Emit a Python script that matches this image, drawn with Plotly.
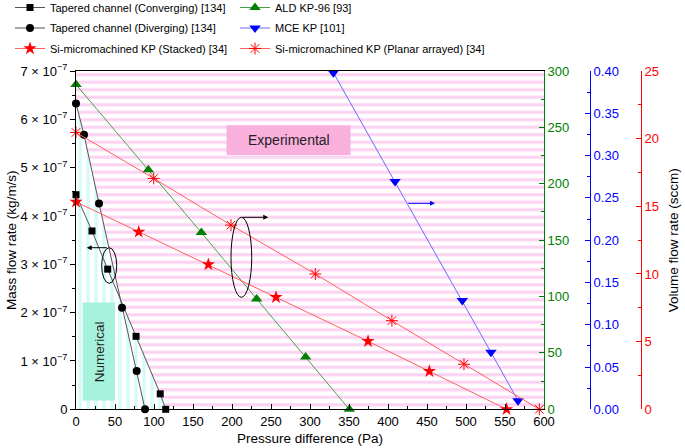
import numpy as np
import plotly.graph_objects as go

# ---------------- data ----------------
conv_x = [0, 20.5, 40.6, 77, 108, 115]
conv_y = [4.44e-7, 3.69e-7, 2.90e-7, 1.51e-7, 0.32e-7, 0]

div_x = [0, 10.3, 29.5, 59, 77.8, 88.5]
div_y = [6.33e-7, 5.68e-7, 4.26e-7, 2.10e-7, 0.79e-7, 0]

ald_x = [0, 92.7, 160.7, 231.6, 294.4, 350.4]
ald_y = [288, 212.4, 156.7, 97.9, 46.4, 0]

mce_x = [330, 409, 495.3, 532, 566.7]
mce_y = [0.398, 0.2693, 0.1285, 0.0674, 0.0102]

stk_x = [0, 80.4, 169.7, 256.4, 374.4, 453, 552]
stk_y = [15.33, 13.11, 10.70, 8.28, 5.03, 2.81, 0]

pla_x = [0, 99.6, 198.7, 306.8, 405, 497.4, 594]
pla_y = [20.46, 17.06, 13.61, 10.0, 6.55, 3.33, 0]

x_range = [0, 600]
mass_range = [0, 7e-7]
ald_range = [0, 300]
mce_range = [0, 0.40]
sccm_range = [0, 25]

mass_ticks = [i * 1e-7 for i in range(8)]
mass_ticktext = ["0"] + [f"{i} × 10<sup>−7</sup>" for i in range(1, 8)]
mce_ticks = [round(i * 0.05, 2) for i in range(9)]
mce_ticktext = [f"{v:.2f}" for v in mce_ticks]

FONT = "Liberation Sans, Arial, sans-serif"
FS = 13
LFS = 11
GREEN = "#008000"
BLUE = "#0000ff"
RED = "#ff0000"

fig = go.Figure()

# background experimental region (pink horizontal stripes)
fig.add_trace(go.Scatter(
    x=[x_range[0], x_range[1], x_range[1], x_range[0], x_range[0]],
    y=[mass_range[0], mass_range[0], mass_range[1], mass_range[1], mass_range[0]],
    fill="toself", mode="lines", line=dict(width=0),
    fillpattern=dict(shape="-", fgcolor="#f6a8e8", bgcolor="white", size=7.5, solidity=0.42),
    showlegend=False, hoverinfo="skip"))

# numerical region (cyan vertical stripes) under envelope of tapered channels
xs = np.linspace(0, max(conv_x), 600)
env = np.maximum(np.interp(xs, conv_x, conv_y), np.interp(xs, div_x, div_y))
fig.add_trace(go.Scatter(
    x=np.concatenate([[0], xs, [xs[-1]]]), y=np.concatenate([[0], env, [0]]),
    fill="toself", mode="lines", line=dict(width=0),
    fillpattern=dict(shape="|", fgcolor="#aef3f3", bgcolor="white", size=8, solidity=0.42),
    showlegend=False, hoverinfo="skip"))

fig.add_trace(go.Scatter(
    x=conv_x, y=conv_y, mode="lines+markers", name="Tapered channel (Converging) [134]",
    line=dict(color="#555555", width=1),
    marker=dict(symbol="square", size=7, color="black"),
    cliponaxis=False, legend="legend", legendgroup="a"))
fig.add_trace(go.Scatter(
    x=div_x, y=div_y, mode="lines+markers", name="Tapered channel (Diverging) [134]",
    line=dict(color="#555555", width=1),
    marker=dict(symbol="circle", size=8, color="black"),
    cliponaxis=False, legend="legend", legendgroup="b"))
fig.add_trace(go.Scatter(
    x=stk_x, y=stk_y, mode="lines+markers", name="Si-micromachined KP (Stacked) [34]",
    line=dict(color="#ff6060", width=1),
    marker=dict(symbol="star", size=10, color=RED),
    yaxis="y4", cliponaxis=False, legend="legend", legendgroup="c"))

fig.add_trace(go.Scatter(
    x=ald_x, y=ald_y, mode="lines+markers", name="ALD KP-96 [93]",
    line=dict(color="#4aa04a", width=1),
    marker=dict(symbol="triangle-up", size=10, color=GREEN),
    yaxis="y2", cliponaxis=False, legend="legend2", legendgroup="d"))
fig.add_trace(go.Scatter(
    x=mce_x, y=mce_y, mode="lines+markers", name="MCE KP [101]",
    line=dict(color="#6a6aff", width=1),
    marker=dict(symbol="triangle-down", size=10, color=BLUE),
    yaxis="y3", cliponaxis=False, legend="legend2", legendgroup="e"))
fig.add_trace(go.Scatter(
    x=pla_x, y=pla_y, mode="lines+markers", name="Si-micromachined KP (Planar arrayed) [34]",
    line=dict(color="#ff6060", width=1),
    marker=dict(symbol="asterisk-open", size=10, color=RED, line=dict(color=RED, width=1)),
    yaxis="y4", cliponaxis=False, legend="legend2", legendgroup="f"))

# annotation boxes
fig.add_shape(type="rect", xref="x", yref="y", x0=193, x1=352, y0=5.26e-7, y1=5.88e-7,
              fillcolor="#f9b0dc", line=dict(width=0), layer="above")
fig.add_annotation(x=272.5, y=5.57e-7, xref="x", yref="y", text="Experimental",
                   showarrow=False, font=dict(size=14, color="#222222", family=FONT))
fig.add_shape(type="rect", xref="x", yref="y", x0=8.6, x1=50, y0=0.18e-7, y1=2.21e-7,
              fillcolor="#a6f2dc", line=dict(width=0), layer="above")
fig.add_annotation(x=29.3, y=1.2e-7, xref="x", yref="y", text="Numerical", textangle=-90,
                   showarrow=False, font=dict(size=13.5, color="#222222", family=FONT))

# ellipses
fig.add_shape(type="circle", xref="x", yref="y", x0=32.9, x1=52.2, y0=2.607e-7, y1=3.344e-7,
              line=dict(color="black", width=1), layer="above")
fig.add_shape(type="circle", xref="x", yref="y", x0=198.7, x1=225.3, y0=2.317e-7, y1=3.973e-7,
              line=dict(color="black", width=1), layer="above")

# arrows
fig.add_annotation(x=13.7, y=3.344e-7, ax=41.4, ay=3.344e-7, xref="x", yref="y",
                   axref="x", ayref="y", text="", showarrow=True, arrowhead=2,
                   arrowsize=1, arrowwidth=1, arrowcolor="black")
fig.add_annotation(x=246.5, y=3.973e-7, ax=211.5, ay=3.973e-7, xref="x", yref="y",
                   axref="x", ayref="y", text="", showarrow=True, arrowhead=2,
                   arrowsize=1, arrowwidth=1, arrowcolor="black")
fig.add_annotation(x=460.3, y=4.262e-7, ax=424, ay=4.262e-7, xref="x", yref="y",
                   axref="x", ayref="y", text="", showarrow=True, arrowhead=2,
                   arrowsize=1, arrowwidth=1, arrowcolor=BLUE)

tickfont = dict(family=FONT, size=FS)

fig.update_layout(
    width=685, height=448,
    margin=dict(l=0, r=0, t=0, b=0, autoexpand=False),
    paper_bgcolor="white", plot_bgcolor="white",
    font=dict(family=FONT, size=FS, color="black"),
    xaxis=dict(domain=[76 / 685, 544 / 685], range=x_range, dtick=50, tick0=0,
               ticks="inside", ticklen=5, tickcolor="black",
               minor=dict(dtick=25, ticks="inside", ticklen=3, tickcolor="black"),
               showline=True, linecolor="black", linewidth=1, mirror=True,
               showgrid=False, zeroline=False, tickfont=tickfont,
               title=dict(text="Pressure difference (Pa)", standoff=5, font=dict(size=13.5)),
               automargin=False),
    yaxis=dict(domain=[1 - 409.3 / 448, 1 - 71 / 448], range=mass_range,
               tickvals=mass_ticks, ticktext=mass_ticktext,
               ticks="outside", ticklen=5, tickcolor="black",
               minor=dict(tickvals=[(i + 0.5) * 1e-7 for i in range(7)], ticks="outside",
                          ticklen=3, tickcolor="black"),
               showline=True, linecolor="black", linewidth=1, mirror=False,
               showgrid=False, zeroline=False, tickfont=tickfont,
               title=dict(text="Mass flow rate (kg/m/s)", standoff=0, font=dict(size=13.5)),
               automargin=False),
    yaxis2=dict(overlaying="y", side="right", anchor="x", range=ald_range, dtick=50,
                ticks="inside", ticklen=5, tickcolor=GREEN,
                minor=dict(dtick=25, ticks="inside", ticklen=3, tickcolor=GREEN),
                showline=True, linecolor=GREEN, linewidth=1,
                showgrid=False, zeroline=False,
                tickfont=dict(family=FONT, size=FS, color=GREEN), automargin=False),
    yaxis3=dict(overlaying="y", side="right", anchor="free", position=590 / 685,
                range=mce_range, tickvals=mce_ticks, ticktext=mce_ticktext,
                ticks="inside", ticklen=5, tickcolor=BLUE,
                minor=dict(tickvals=[round((i + 0.5) * 0.05, 3) for i in range(8)],
                           ticks="inside", ticklen=3, tickcolor=BLUE),
                showline=True, linecolor=BLUE, linewidth=1,
                showgrid=False, zeroline=False,
                tickfont=dict(family=FONT, size=FS, color=BLUE), automargin=False),
    yaxis4=dict(overlaying="y", side="right", anchor="free", position=641 / 685,
                range=sccm_range, dtick=5,
                ticks="inside", ticklen=5, tickcolor=RED,
                minor=dict(dtick=2.5, ticks="inside", ticklen=3, tickcolor=RED),
                showline=True, linecolor=RED, linewidth=1,
                showgrid=False, zeroline=False,
                tickfont=dict(family=FONT, size=FS, color=RED),
                title=dict(text="Volume flow rate (sccm)", standoff=10,
                           font=dict(size=13.5, color="black")),
                automargin=False),
    legend=dict(x=10 / 685, y=1 + 7 / 448, xanchor="left", yanchor="top", orientation="v",
                bgcolor="rgba(0,0,0,0)", font=dict(size=LFS, family=FONT),
                tracegroupgap=1.5, itemwidth=30),
    legend2=dict(x=235 / 685, y=1 + 7 / 448, xanchor="left", yanchor="top", orientation="v",
                 bgcolor="rgba(0,0,0,0)", font=dict(size=LFS, family=FONT),
                 tracegroupgap=1.5, itemwidth=30),
)

fig.write_html("out.html", post_script="document.body.style.margin='0px';",
               config={"displayModeBar": False})
